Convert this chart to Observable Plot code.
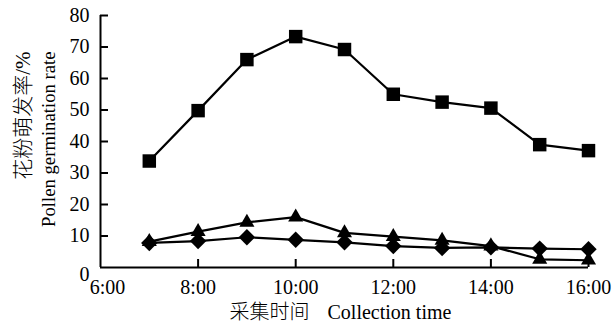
<!DOCTYPE html>
<html>
<head>
<meta charset="utf-8">
<script src="https://cdn.jsdelivr.net/npm/d3@7"></script>
<script src="https://cdn.jsdelivr.net/npm/@observablehq/plot@0.6"></script>
<style>
  html, body { margin: 0; padding: 0; background: #fff; }
  #chart svg { display: block; }
  #chart svg text { font-family: "Liberation Serif", "Noto Sans CJK SC", serif !important; }
</style>
</head>
<body>
<div id="chart"></div>
<script>
// Collection time (hour of day)
const hours = [7, 8, 9, 10, 11, 12, 13, 14, 15, 16];
// Series values (pollen germination rate, %)
const squareSeries = [33.8, 49.8, 66.0, 73.3, 69.2, 55.0, 52.5, 50.6, 39.0, 37.1];
const triangleSeries = [8.2, 11.4, 14.3, 16.0, 11.0, 9.8, 8.6, 6.8, 2.6, 2.3];
const diamondSeries = [7.8, 8.4, 9.6, 8.8, 8.0, 6.8, 6.2, 6.4, 6.0, 5.8];
// Axis ticks
const xTicks = [6, 8, 10, 12, 14, 16];
const yTicks = [10, 20, 30, 40, 50, 60, 70, 80];
const yZeroTick = [0];
// Titles
const yTitleZh = "花粉萌发率/%";
const yTitleEn = "Pollen germination rate";
const xTitleZh = "采集时间";
const xTitleEn = "Collection time";

const rows = (vals) => hours.map((h, i) => ({hour: h, value: vals[i]}));
const sq = rows(squareSeries), tr = rows(triangleSeries), di = rows(diamondSeries);

const serif = "Liberation Serif, Times New Roman, serif";
const fmt = (d) => `${d}:00`;
const axisText = {fontSize: 20, fontFamily: serif, fill: "#000", label: null};

const chart = Plot.plot({
  width: 612,
  height: 329,
  marginLeft: 100,
  marginRight: 24,
  marginTop: 15,
  marginBottom: 62,
  style: {fontFamily: serif, fontSize: "20px", color: "#000", background: "#fff"},
  x: {domain: [6, 16], axis: null},
  y: {domain: [0, 80], axis: null},
  marks: [
    // axis lines
    Plot.ruleX([6], {stroke: "#000", strokeWidth: 2}),
    Plot.ruleY([0], {stroke: "#000", strokeWidth: 2}),
    // inward ticks
    Plot.axisY(yTicks, {anchor: "left", tickSize: -8, strokeWidth: 2, text: null, stroke: "#000", label: null}),
    Plot.axisX(xTicks.filter(d => d !== 6), {anchor: "bottom", tickSize: -8, strokeWidth: 2, text: null, stroke: "#000", label: null}),
    // tick labels
    Plot.axisY(yTicks, {anchor: "left", tickSize: 0, tickPadding: 11, ...axisText}),
    Plot.axisY(yZeroTick, {anchor: "left", tickSize: 0, tickPadding: 11, dy: 7, ...axisText}),
    Plot.axisX(xTicks.filter(d => d !== 6), {anchor: "bottom", tickSize: 0, tickPadding: 12, tickFormat: fmt, ...axisText}),
    Plot.axisX([6], {anchor: "bottom", tickSize: 0, tickPadding: 12, dx: 7, tickFormat: fmt, ...axisText}),
    // series
    Plot.line(sq, {x: "hour", y: "value", stroke: "#000", strokeWidth: 2.2}),
    Plot.line(tr, {x: "hour", y: "value", stroke: "#000", strokeWidth: 2.2}),
    Plot.line(di, {x: "hour", y: "value", stroke: "#000", strokeWidth: 2.2}),
    Plot.dot(sq, {x: "hour", y: "value", symbol: "square", r: 7.6, fill: "#000", stroke: "none"}),
    Plot.dot(tr, {x: "hour", y: "value", symbol: "triangle", r: 5.6, fill: "#000", stroke: "none"}),
    Plot.dot(di, {x: "hour", y: "value", symbol: "diamond2", r: 7.4, fill: "#000", stroke: "none"}),
    // axis titles
    Plot.text([yTitleZh], {frameAnchor: "top-left", rotate: -90, textAnchor: "end", dx: -85, dy: 36, fontSize: 21, fontWeight: 300, fill: "#000"}),
    Plot.text([yTitleEn], {frameAnchor: "top-left", rotate: -90, textAnchor: "end", dx: -59, dy: 36, fontSize: 18.7, fill: "#000"}),
    Plot.text([xTitleZh], {frameAnchor: "bottom", textAnchor: "end", dx: -35, dy: 51, fontSize: 20, fontWeight: 300, fill: "#000"}),
    Plot.text([xTitleEn], {frameAnchor: "bottom", textAnchor: "start", dx: -17, dy: 51, fontSize: 20, fill: "#000"})
  ]
});
document.getElementById("chart").appendChild(chart);
</script>
</body>
</html>
